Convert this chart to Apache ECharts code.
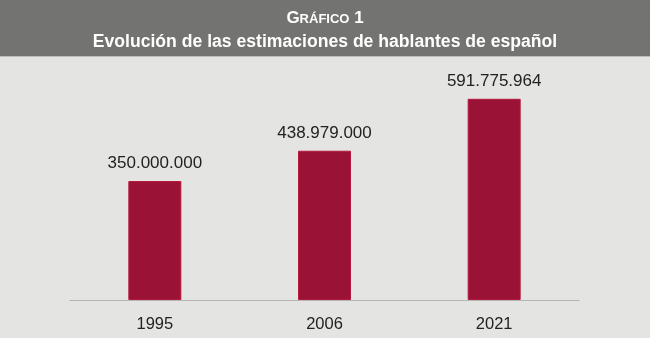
<!DOCTYPE html>
<html><head><meta charset="utf-8">
<script src="https://cdn.jsdelivr.net/npm/echarts@6/dist/echarts.min.js"></script>
<style>html,body{margin:0;padding:0;background:#e4e4e2}#c{width:650px;height:338px}</style>
</head><body><div id="c"></div>
<script>
const categories = ['1995', '2006', '2021'];
const hablantes = [350000000, 438979000, 591775964];
const titleLine1 = 'Gráfico 1';
const titleLine2 = 'Evolución de las estimaciones de hablantes de español';

function fmt(v) {
  return String(v).replace(/\B(?=(\d{3})+(?!\d))/g, '.');
}
const chart = echarts.init(document.getElementById('c'), null, {renderer: 'canvas'});
chart.setOption({
  backgroundColor: '#e4e4e2',
  animation: false,
  graphic: [
    {type: 'rect', left: 0, top: 0, shape: {width: 650, height: 56}, style: {fill: '#737471'}, z: 0},
    {type: 'rect', left: 0, top: 56, shape: {width: 650, height: 1}, style: {fill: '#bdbdbb'}, z: 0}
  ],
  title: [
    {
      text: '{a|' + titleLine1.charAt(0) + '}{b|' + titleLine1.slice(1, -2).toUpperCase() + '}{a|' + titleLine1.slice(-2) + '}',
      left: 'center', top: 5,
      textStyle: {
        rich: {
          a: {fontFamily: 'Liberation Sans', fontWeight: 'bold', fontSize: 17, color: '#ffffff'},
          b: {fontFamily: 'Liberation Sans', fontWeight: 'bold', fontSize: 13, color: '#ffffff', verticalAlign: 'bottom', padding: [0,0,1,0]}
        }
      }
    },
    {
      text: titleLine2, left: 'center', top: 28,
      textStyle: {fontFamily: 'Liberation Sans', fontWeight: 'bold', fontSize: 17.6, color: '#ffffff'}
    }
  ],
  grid: {left: 70, right: 71, top: 62, bottom: 38, containLabel: false},
  xAxis: {
    type: 'category', data: categories,
    axisLine: {lineStyle: {color: '#b4b4b2', width: 1}},
    axisTick: {show: false},
    axisLabel: {fontFamily: 'Liberation Sans', fontSize: 16.5, color: '#222222', margin: 16}
  },
  yAxis: {
    type: 'value', min: 0, max: 700000000, show: false,
    splitLine: {show: false}
  },
  series: [{
    type: 'bar', data: hablantes, barWidth: 53,
    itemStyle: {color: '#9a1337', borderColor: '#b5193f', borderWidth: 1},
    label: {
      show: true, position: 'top', distance: 9,
      fontFamily: 'Liberation Sans', fontSize: 17, color: '#222222',
      formatter: p => fmt(p.value)
    }
  }]
});
</script></body></html>
